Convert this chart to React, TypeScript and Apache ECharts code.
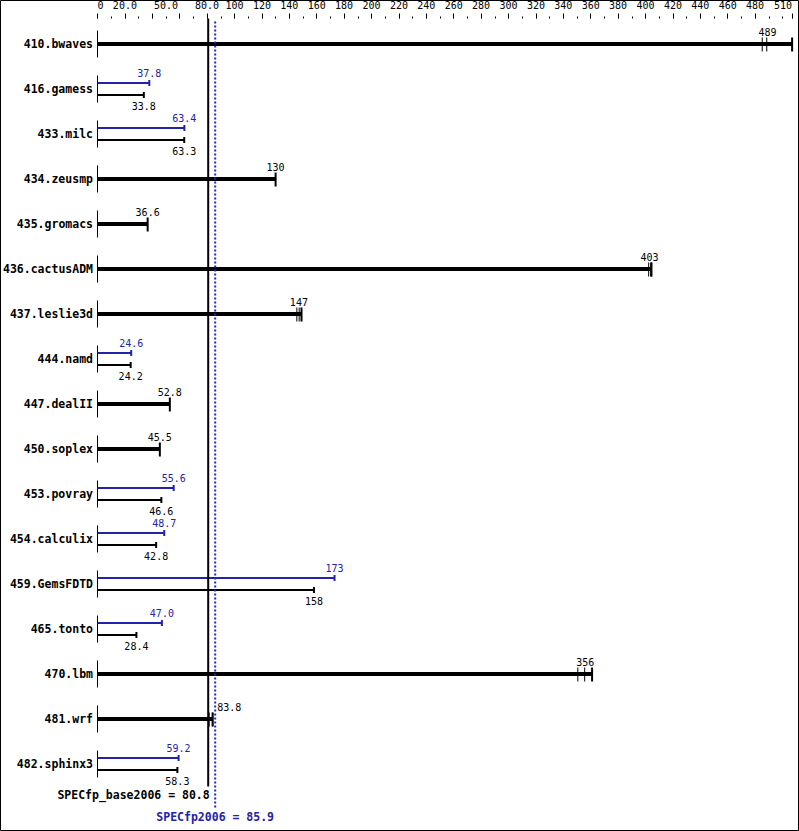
import React, { useEffect, useRef } from "react";
import * as echarts from "echarts";

// ---- data ----
const benchmarks = [
  "410.bwaves", "416.gamess", "433.milc", "434.zeusmp", "435.gromacs",
  "436.cactusADM", "437.leslie3d", "444.namd", "447.dealII", "450.soplex",
  "453.povray", "454.calculix", "459.GemsFDTD", "465.tonto", "470.lbm",
  "481.wrf", "482.sphinx3",
];
const baseScores = [489, 33.8, 63.3, 130, 36.6, 403, 147, 24.2, 52.8, 45.5, 46.6, 42.8, 158, 28.4, 356, 83.8, 58.3];
const peakScores: (number | null)[] = [null, 37.8, 63.4, null, null, null, null, 24.6, null, null, 55.6, 48.7, 173, 47.0, null, null, 59.2];
const baseRuns = [
  [485.2, 488.5, 507], [33.8], [63.3], [130], [36.6],
  [402.3, 404.2, 404.2], [145.5, 147.2, 148.9], [24.2], [52.8], [45.5],
  [46.6], [42.8], [158], [28.4], [350.6, 355.6, 361],
  [81.5, 83.8, 84.1], [58.3],
];
const specBase = 80.8;
const specPeak = 85.9;
const specBaseName = "SPECfp_base2006";
const specPeakName = "SPECfp2006";

const axisMax = 507;
const minorTickValues = [0, 10, 20, 30, 40, 50, 60, 70, 80, 90, 100, 110, 120, 130, 140, 150, 160, 170, 180, 190, 200, 210, 220, 230, 240, 250, 260, 270, 280, 290, 300, 310, 320, 330, 340, 350, 360, 370, 380, 390, 400, 410, 420, 430, 440, 450, 460, 470, 480, 490, 500, 507];
const majorTickValues = [0, 20, 40, 60, 80, 100, 120, 140, 160, 180, 200, 220, 240, 260, 280, 300, 320, 340, 360, 380, 400, 420, 440, 460, 480, 507];
const labelValues = [0, 20, 50, 80, 100, 120, 140, 160, 180, 200, 220, 240, 260, 280, 300, 320, 340, 360, 380, 400, 420, 440, 460, 480, 507];
const labelTexts = ["0", "20.0", "50.0", "80.0", "100", "120", "140", "160", "180", "200", "220", "240", "260", "280", "300", "320", "340", "360", "380", "400", "420", "440", "460", "480", "510"];

// ---- styles ----
const BLUE = "#2222aa";
const DOT_BLUE = "#2222cc";
const MONO = "'DejaVu Sans Mono', 'Liberation Mono', monospace";
const VALUE_FONT = `10px ${MONO}`;
const BOLD_FONT = `bold 11.5px ${MONO}`;

function fmt(v: number): string {
  return v >= 100 ? String(Math.round(v)) : v.toFixed(1);
}

function textEl(text: string, x: number, y: number, fill: string, font: string, align: string) {
  return {
    type: "text",
    style: {
      text, x, y, fill, font,
      align, textAlign: align,
      verticalAlign: "middle", textVerticalAlign: "middle",
    },
  };
}

function lineEl(x1: number, y1: number, x2: number, y2: number, stroke: string, lineWidth: number, lineDash?: number[]) {
  return {
    type: "line",
    shape: { x1, y1, x2, y2 },
    style: { stroke, lineWidth, lineDash },
  };
}

export default function App() {
  const ref = useRef<HTMLDivElement>(null);

  useEffect(() => {
    if (!ref.current) return;
    const chart = echarts.init(ref.current, null, { renderer: "svg" });

    const renderBench = (params: any, api: any) => {
      const i = api.value(0) as number;
      const [x0, cy] = api.coord([0, i]);
      const xBaseLine = api.coord([specBase, i])[0];
      const xPeakLine = api.coord([specPeak, i])[0];
      const children: any[] = [];
      children.push(lineEl(x0, cy - 13.5, x0, cy + 13.5, "#000", 1));
      const peak = peakScores[i];
      if (peak == null) {
        const runs = baseRuns[i];
        const maxRun = Math.max(...runs);
        const xe = api.coord([maxRun, i])[0];
        children.push({ type: "rect", shape: { x: x0, y: cy - 2, width: xe - x0, height: 4 }, style: { fill: "#000" } });
        runs.forEach((r) => {
          const xr = api.coord([r, i])[0];
          children.push(lineEl(xr, cy - 6.5, xr, cy + 7.5, "#000", r === maxRun ? 2 : 1));
        });
        const xs = api.coord([baseScores[i], i])[0];
        const txt = fmt(baseScores[i]);
        const halfW = txt.length * 3;
        if (xs - halfW < xPeakLine + 2 && xs + halfW > xBaseLine - 2) {
          children.push(textEl(txt, xPeakLine + 2, cy - 11.5, "#000", VALUE_FONT, "left"));
        } else {
          children.push(textEl(txt, xs, cy - 11.5, "#000", VALUE_FONT, "center"));
        }
      } else {
        const xp = api.coord([peak, i])[0];
        const xb = api.coord([baseScores[i], i])[0];
        const yp = cy - 6;
        const yb = cy + 6;
        children.push({ type: "rect", shape: { x: x0, y: yp - 1, width: xp - x0, height: 2 }, style: { fill: BLUE } });
        children.push(lineEl(xp, yp - 3, xp, yp + 3, BLUE, 2));
        children.push({ type: "rect", shape: { x: x0, y: yb - 1, width: xb - x0, height: 2 }, style: { fill: "#000" } });
        children.push(lineEl(xb, yb - 3, xb, yb + 3, "#000", 2));
        children.push(textEl(fmt(peak), xp, cy - 16, BLUE, VALUE_FONT, "center"));
        children.push(textEl(fmt(baseScores[i]), xb, cy + 17.5, "#000", VALUE_FONT, "center"));
      }
      return { type: "group", children };
    };

    const renderSummary = (params: any, api: any) => {
      const cs = params.coordSys;
      const xb = api.coord([api.value(0), 0])[0];
      const xp = api.coord([api.value(2), 0])[0];
      const top = cs.y;
      const bottom = cs.y + cs.height;
      return {
        type: "group",
        children: [
          lineEl(xb, top - 3, xb, bottom, "#000", 2),
          lineEl(xp, top, xp, bottom + 22, DOT_BLUE, 2, [2, 2]),
          textEl(`${specBaseName} = ${fmt(api.value(0))}`, xb + 1.5, bottom + 8.5, "#000", BOLD_FONT, "right"),
          textEl(`${specPeakName} = ${fmt(api.value(2))}`, xp, bottom + 30.5, BLUE, BOLD_FONT, "center"),
        ],
      };
    };

    const xCommon = {
      type: "value",
      position: "top",
      min: 0,
      max: axisMax,
      offset: 3,
      axisLine: { show: false },
      splitLine: { show: false },
    };

    chart.setOption({
      animation: false,
      backgroundColor: "#fff",
      grid: { left: 97.5, right: 6.9, top: 21.5, bottom: 44.5, containLabel: false },
      xAxis: [
        {
          ...xCommon,
          axisTick: { show: true, length: 2, customValues: minorTickValues, lineStyle: { color: "#000", width: 1 } },
          axisLabel: {
            show: true,
            customValues: labelValues,
            margin: 8,
            color: "#000",
            fontFamily: MONO,
            fontSize: 10,
            showMinLabel: true,
            showMaxLabel: true,
            alignMinLabel: "left",
            alignMaxLabel: "right",
            formatter: (v: number) => {
              const k = labelValues.indexOf(Math.round(v));
              return k >= 0 ? labelTexts[k] : "";
            },
          },
        },
        {
          ...xCommon,
          axisTick: { show: true, length: 5, customValues: majorTickValues, lineStyle: { color: "#000", width: 1 } },
          axisLabel: { show: false },
        },
      ],
      yAxis: {
        type: "category",
        inverse: true,
        data: benchmarks,
        axisLine: { show: false },
        axisTick: { show: false },
        splitLine: { show: false },
        axisLabel: {
          margin: 4.5,
          color: "#000",
          fontFamily: MONO,
          fontWeight: "bold",
          fontSize: 11.5,
          interval: 0,
        },
      },
      series: [
        {
          type: "custom",
          xAxisIndex: 0,
          clip: false,
          renderItem: renderBench,
          encode: { x: 1, y: 0 },
          data: benchmarks.map((_, i) => [i, baseScores[i]]),
        },
        {
          type: "custom",
          xAxisIndex: 0,
          clip: false,
          renderItem: renderSummary,
          encode: { x: 0, y: 1 },
          data: [[specBase, 0, specPeak]],
        },
      ],
      graphic: [
        {
          type: "rect",
          shape: { x: 0.5, y: 0.5, width: 798, height: 830 },
          style: { fill: "none", stroke: "#000", lineWidth: 1 },
          silent: true,
        },
      ],
    });

    return () => chart.dispose();
  }, []);

  return (
    <div
      ref={ref}
      style={{ position: "absolute", left: 0, top: 0, width: 799, height: 831 }}
    />
  );
}
